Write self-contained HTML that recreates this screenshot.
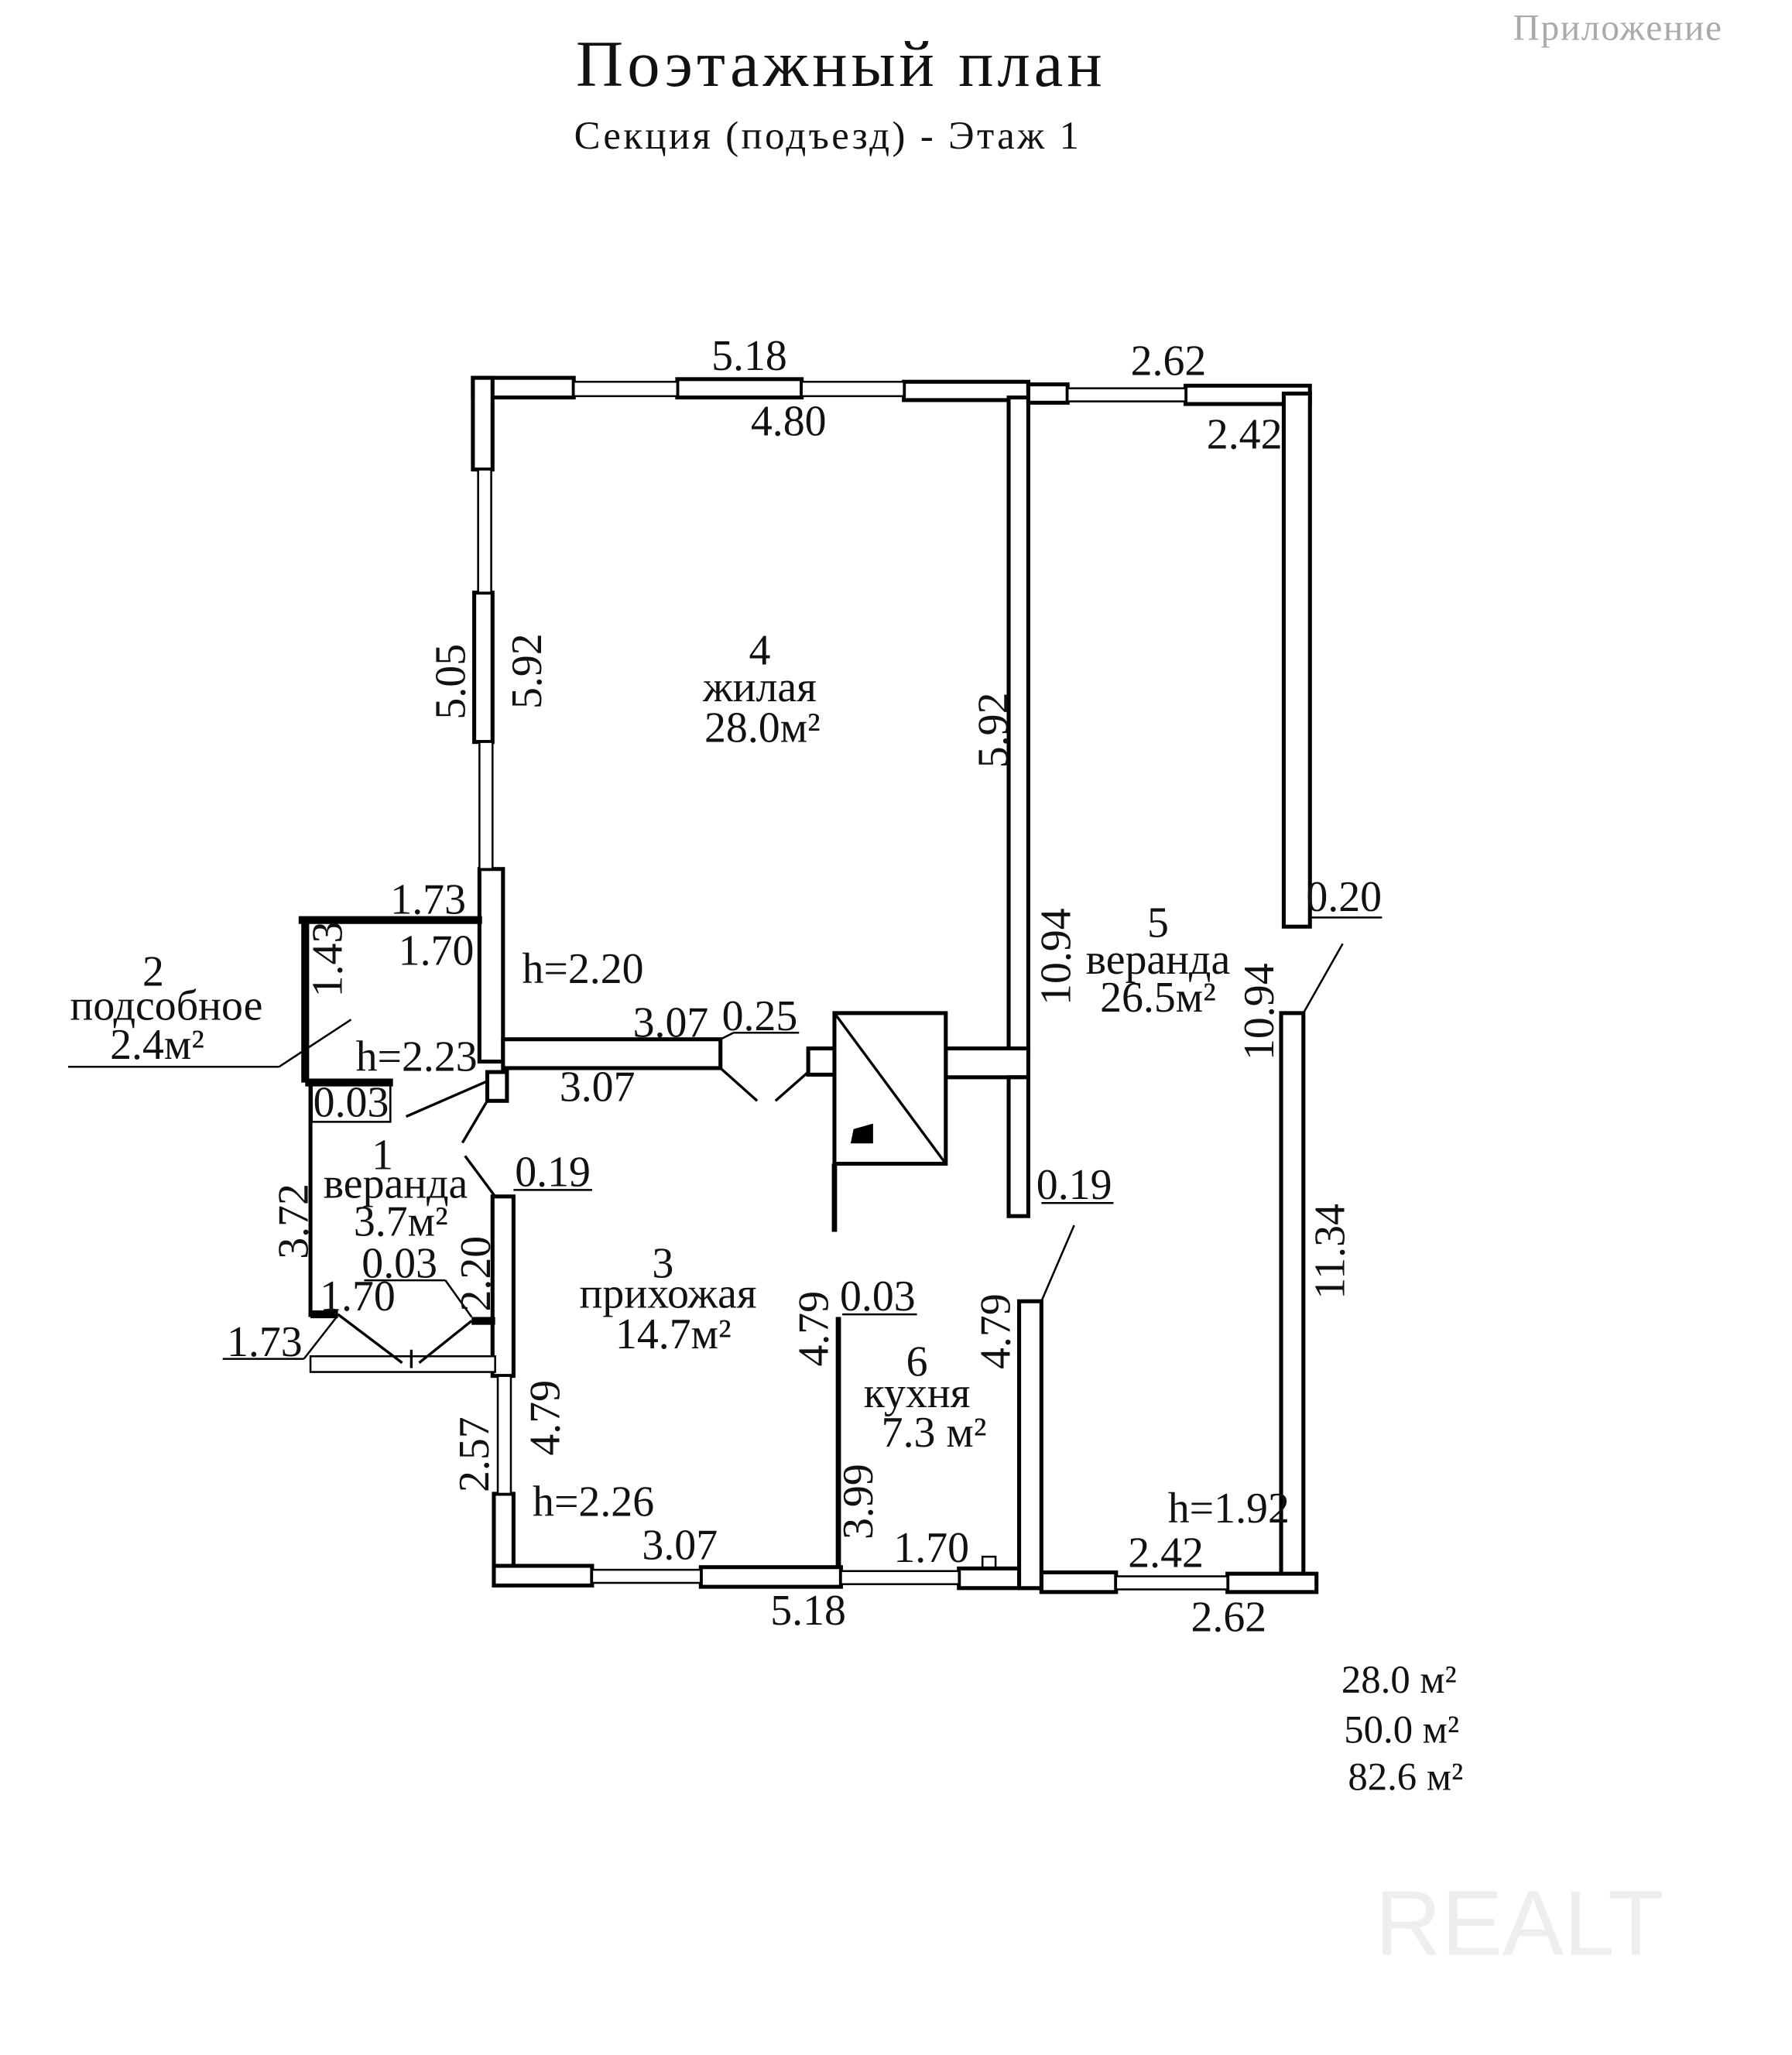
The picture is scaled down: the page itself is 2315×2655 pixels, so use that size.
<!DOCTYPE html>
<html><head><meta charset="utf-8"><style>
html,body{margin:0;padding:0;background:#fff}
svg{display:block}
text{font-family:"Liberation Serif","Noto Serif CJK SC",serif;fill:#111}
</style></head><body>
<svg width="2315" height="2655" viewBox="0 0 1368 1568" xmlns="http://www.w3.org/2000/svg">
<rect width="1368" height="1568" fill="#fff"/>
<text x="642" y="65" font-size="50" text-anchor="middle" letter-spacing="3">Поэтажный план</text>
<text x="632" y="113" font-size="30" text-anchor="middle" letter-spacing="2">Секция (подъезд) - Этаж 1</text>
<text x="1155" y="30" font-size="28" style="fill:#aaa" letter-spacing="1">Приложение</text>

<g fill="#fff" stroke="#000" stroke-width="3">
<rect x="361" y="288" width="77" height="15"/>
<rect x="517" y="289" width="95" height="14"/>
<rect x="690" y="291" width="95" height="14"/>
<rect x="361" y="288" width="15" height="70"/>
<rect x="362" y="452" width="14" height="114"/>
<rect x="366" y="663" width="18" height="147"/>
<rect x="770" y="303" width="15" height="502"/>
<rect x="785" y="293" width="30" height="14"/>
<rect x="905" y="294" width="95" height="14"/>
<rect x="980" y="300" width="20" height="407"/>
<rect x="978" y="773" width="17" height="430"/>
<rect x="795" y="1200" width="57" height="15"/>
<rect x="937" y="1201" width="68" height="14"/>
<rect x="384" y="793" width="166" height="22"/>
<rect x="722" y="800" width="63" height="22"/>
<rect x="770" y="822" width="15" height="106"/>
<rect x="637" y="773" width="85" height="115"/>
<rect x="617" y="800" width="20" height="20"/>
<rect x="372" y="818" width="15" height="22"/>
<rect x="376" y="913" width="16" height="137"/>
<rect x="377" y="1140" width="15" height="70"/>
<rect x="377" y="1195" width="75" height="15"/>
<rect x="535" y="1196" width="107" height="15"/>
<rect x="732" y="1197" width="61" height="15"/>
<rect x="778" y="993" width="17" height="219"/>
<rect x="438" y="291" width="79" height="11" stroke-width="1.5"/>
<rect x="612" y="291" width="78" height="11" stroke-width="1.5"/>
<rect x="815" y="296" width="90" height="10" stroke-width="1.5"/>
<rect x="365" y="358" width="10" height="94" stroke-width="1.5"/>
<rect x="366" y="566" width="10" height="97" stroke-width="1.5"/>
<rect x="380" y="1050" width="10" height="90" stroke-width="1.5"/>
<rect x="452" y="1198" width="83" height="10" stroke-width="1.5"/>
<rect x="642" y="1199" width="90" height="10" stroke-width="1.5"/>
<rect x="852" y="1203" width="85" height="10" stroke-width="1.5"/>
<rect x="237" y="1035" width="141" height="12" stroke-width="1.5"/>
</g>
<g stroke="#000" fill="none">
<line x1="637" y1="773" x2="722" y2="888" stroke-width="2"/>
<polygon points="652,862 666,858 666,872 650,872" fill="#000"/>
<line x1="637" y1="888" x2="637" y2="940" stroke-width="4"/>
<line x1="640" y1="1005" x2="640" y2="1197" stroke-width="4"/>
<line x1="228" y1="702" x2="368" y2="702" stroke-width="6"/>
<line x1="233" y1="702" x2="233" y2="826" stroke-width="6"/>
<line x1="233" y1="826" x2="300" y2="826" stroke-width="6"/>
<line x1="237" y1="826" x2="237" y2="1005" stroke-width="3"/>
<line x1="237" y1="1003" x2="258" y2="1003" stroke-width="6"/>
<line x1="360" y1="1008" x2="378" y2="1008" stroke-width="6"/>
<line x1="550" y1="815" x2="578" y2="840" stroke-width="2"/>
<line x1="617" y1="818" x2="592" y2="840" stroke-width="2"/>
<line x1="372" y1="840" x2="353" y2="872" stroke-width="2"/>
<line x1="355" y1="882" x2="378" y2="913" stroke-width="2"/>
<line x1="310" y1="852" x2="372" y2="825" stroke-width="2"/>
<line x1="258" y1="1003" x2="307" y2="1040" stroke-width="2"/>
<line x1="360" y1="1008" x2="320" y2="1040" stroke-width="2"/>
<line x1="314" y1="1030" x2="314" y2="1044" stroke-width="2"/>
<line x1="52" y1="814" x2="213" y2="814" stroke-width="1.5"/>
<line x1="213" y1="814" x2="268" y2="778" stroke-width="1.5"/>
<polyline points="238,826 238,856 298,856 298,826" stroke-width="1.5"/>
<line x1="170" y1="1037" x2="232" y2="1037" stroke-width="1.5"/>
<line x1="232" y1="1037" x2="257" y2="1005" stroke-width="1.5"/>
<line x1="278" y1="977" x2="340" y2="977" stroke-width="1.5"/>
<line x1="340" y1="977" x2="360" y2="1005" stroke-width="1.5"/>
<line x1="550" y1="793" x2="560" y2="788" stroke-width="1.5"/>
<line x1="560" y1="788" x2="610" y2="788" stroke-width="1.5"/>
<line x1="392" y1="908" x2="452" y2="908" stroke-width="1.5"/>
<line x1="795" y1="918" x2="850" y2="918" stroke-width="1.5"/>
<line x1="643" y1="1003" x2="700" y2="1003" stroke-width="1.5"/>
<line x1="795" y1="993" x2="820" y2="935" stroke-width="1.5"/>
<line x1="995" y1="773" x2="1025" y2="720" stroke-width="1.5"/>
<line x1="1000" y1="700" x2="1055" y2="700" stroke-width="1.5"/>
<rect x="750" y="1188" width="10" height="9" stroke-width="1.5"/>
</g>
<g font-size="33" text-anchor="middle">
<text x="572" y="282">5.18</text>
<text x="602" y="332">4.80</text>
<text x="892" y="286">2.62</text>
<text x="950" y="342">2.42</text>
<text x="298" y="697" text-anchor="start">1.73</text>
<text x="333" y="736">1.70</text>
<text x="445" y="750">h=2.20</text>
<text x="512" y="791">3.07</text>
<text x="580" y="786">0.25</text>
<text x="456" y="840">3.07</text>
<text x="318" y="817">h=2.23</text>
<text x="268" y="852">0.03</text>
<text x="422" y="905">0.19</text>
<text x="820" y="915">0.19</text>
<text x="1026" y="695">0.20</text>
<text x="305" y="975">0.03</text>
<text x="273" y="1000">1.70</text>
<text x="202" y="1035">1.73</text>
<text x="453" y="1157">h=2.26</text>
<text x="519" y="1190">3.07</text>
<text x="617" y="1240">5.18</text>
<text x="711" y="1192">1.70</text>
<text x="890" y="1196">2.42</text>
<text x="938" y="1245">2.62</text>
<text x="938" y="1162">h=1.92</text>
<text x="670" y="1000">0.03</text>
<text x="580" y="507">4</text>
<text x="580" y="535">жилая</text>
<text x="582" y="566">28.0м²</text>
<text x="884" y="715">5</text>
<text x="884" y="743">веранда</text>
<text x="884" y="772">26.5м²</text>
<text x="117" y="752">2</text>
<text x="127" y="778">подсобное</text>
<text x="120" y="808">2.4м²</text>
<text x="292" y="892">1</text>
<text x="302" y="914">веранда</text>
<text x="306" y="943">3.7м²</text>
<text x="506" y="975">3</text>
<text x="510" y="998">прихожая</text>
<text x="514" y="1029">14.7м²</text>
<text x="700" y="1050">6</text>
<text x="700" y="1074">кухня</text>
<text x="713" y="1104">7.3 м²</text>
</g>
<g font-size="33" text-anchor="middle">
<text transform="translate(355,520) rotate(-90)">5.05</text>
<text transform="translate(413,512) rotate(-90)">5.92</text>
<text transform="translate(769,557) rotate(-90)">5.92</text>
<text transform="translate(817,730) rotate(-90)">10.94</text>
<text transform="translate(972,772) rotate(-90)">10.94</text>
<text transform="translate(1026,955) rotate(-90)">11.34</text>
<text transform="translate(261,732) rotate(-90)">1.43</text>
<text transform="translate(235,932) rotate(-90)">3.72</text>
<text transform="translate(374,972) rotate(-90)">2.20</text>
<text transform="translate(632,1014) rotate(-90)">4.79</text>
<text transform="translate(771,1016) rotate(-90)">4.79</text>
<text transform="translate(427,1082) rotate(-90)">4.79</text>
<text transform="translate(373,1110) rotate(-90)">2.57</text>
<text transform="translate(666,1146) rotate(-90)">3.99</text>
</g>
<g font-size="30" text-anchor="middle">
<text x="1068" y="1292">28.0 м²</text>
<text x="1070" y="1330">50.0 м²</text>
<text x="1073" y="1366">82.6 м²</text>
</g>
<text x="1160" y="1492" font-size="70" style="fill:#eee;font-family:'Liberation Sans',sans-serif" text-anchor="middle">REALT</text>
</svg>
</body></html>
